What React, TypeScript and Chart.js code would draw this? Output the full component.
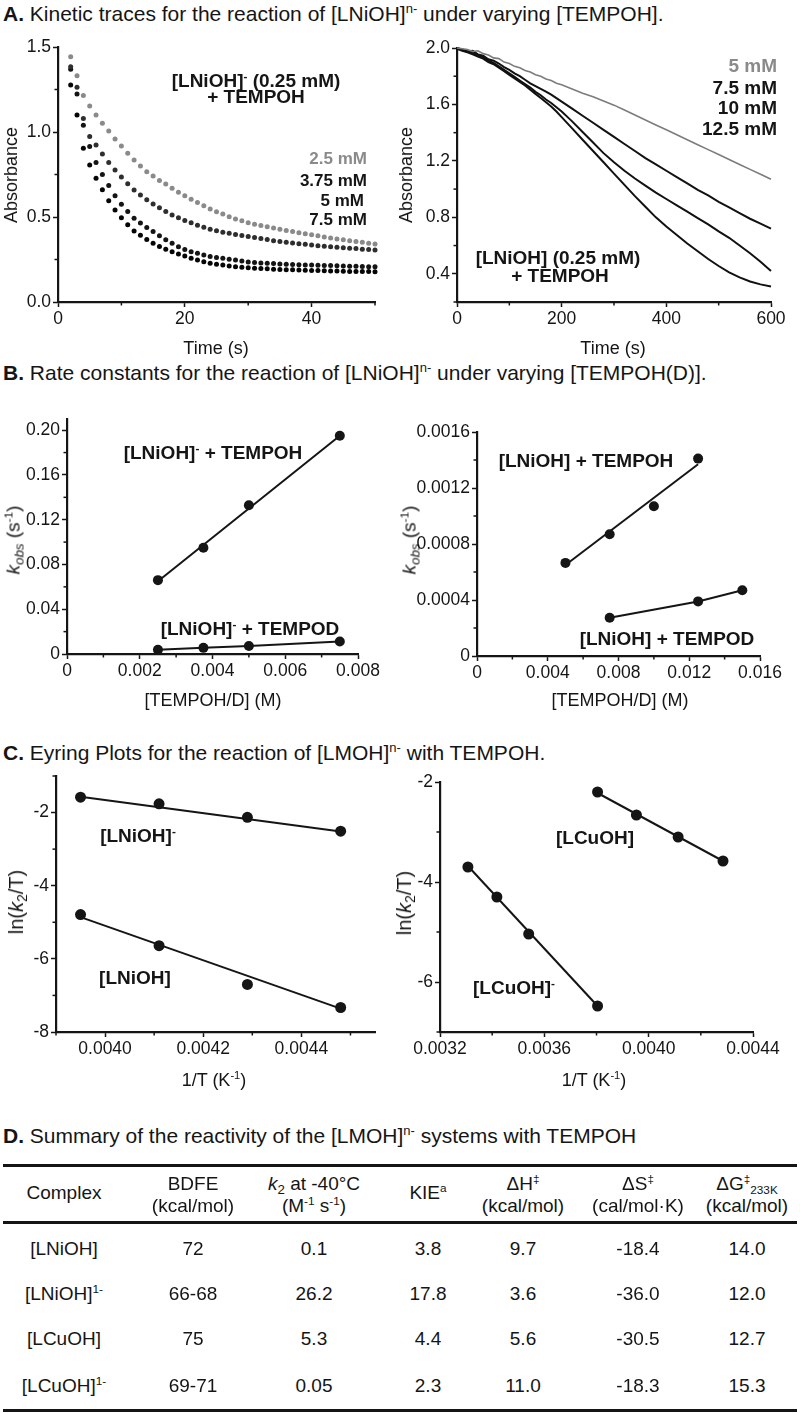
import React, { useEffect, useRef } from 'react';
import { Chart, registerables } from 'chart.js';
Chart.register(...registerables);

const FONT = '"Liberation Sans", Arial, Helvetica, sans-serif';
const INK = '#151515';
const GRAY = '#8a8a8a';

// ---------- Panel A (left): [LNiOH]- + TEMPOH, dots ----------
const timeA1 = [2,3,4,5,6,7,8,9,10,11,12,13,14,15,16,17,18,19,20,21,22,23,24,25,26,27,28,29,30,31,32,33,34,35,36,37,38,39,40,41,42,43,44,45,46,47,48,49,50];
const abs25 = [1.443,1.331,1.214,1.153,1.100,1.051,1.006,0.959,0.918,0.875,0.835,0.800,0.766,0.741,0.714,0.694,0.669,0.645,0.625,0.604,0.586,0.566,0.547,0.531,0.518,0.502,0.488,0.478,0.466,0.458,0.450,0.442,0.435,0.428,0.421,0.414,0.407,0.401,0.395,0.389,0.383,0.377,0.371,0.366,0.361,0.356,0.351,0.346,0.341];
const abs375 = [1.384,1.263,1.080,0.973,0.924,0.870,0.820,0.776,0.735,0.696,0.659,0.630,0.602,0.576,0.554,0.532,0.512,0.495,0.480,0.466,0.452,0.440,0.428,0.419,0.411,0.404,0.397,0.391,0.385,0.379,0.373,0.367,0.361,0.356,0.351,0.347,0.343,0.339,0.335,0.331,0.328,0.325,0.322,0.319,0.316,0.314,0.311,0.309,0.306];
const abs5 = [1.369,1.224,1.040,0.914,0.820,0.750,0.685,0.625,0.575,0.532,0.492,0.464,0.438,0.414,0.390,0.366,0.345,0.325,0.309,0.296,0.287,0.277,0.267,0.262,0.257,0.252,0.247,0.241,0.236,0.233,0.230,0.228,0.226,0.224,0.222,0.221,0.219,0.218,0.217,0.216,0.215,0.214,0.213,0.212,0.211,0.210,0.209,0.208,0.208];
const abs75 = [1.276,1.100,0.904,0.806,0.728,0.660,0.595,0.541,0.495,0.455,0.418,0.392,0.367,0.345,0.327,0.310,0.296,0.283,0.270,0.257,0.247,0.237,0.228,0.222,0.217,0.212,0.208,0.205,0.202,0.199,0.197,0.195,0.193,0.191,0.190,0.189,0.188,0.187,0.186,0.185,0.184,0.183,0.182,0.181,0.180,0.180,0.179,0.179,0.178];
const xTicksA1 = [0, 20, 40];
const xLabelsA1 = ['0', '20', '40'];
const xMinorA1 = [10, 30, 50];
const yTicksA1 = [0, 0.5, 1.0, 1.5];
const yLabelsA1 = ['0.0', '0.5', '1.0', '1.5'];
const yMinorA1 = [0.25, 0.75, 1.25];

// ---------- Panel A (right): [LNiOH] + TEMPOH, traces ----------
const timeA2 = [0,10,20,30,40,50,60,70,80,90,100,110,120,130,140,150,160,170,180,190,200,220,240,260,280,300,320,340,360,380,400,420,440,460,480,500,520,540,560,580,600];
const absR5 = [2.00,1.995,1.99,1.975,1.98,1.96,1.95,1.93,1.925,1.90,1.89,1.87,1.86,1.84,1.83,1.81,1.80,1.78,1.77,1.75,1.74,1.71,1.68,1.655,1.625,1.595,1.56,1.525,1.49,1.455,1.42,1.385,1.35,1.315,1.28,1.245,1.21,1.175,1.14,1.105,1.07];
const absR75 = [2.00,1.99,1.975,1.98,1.955,1.945,1.92,1.91,1.89,1.865,1.845,1.82,1.80,1.775,1.75,1.73,1.71,1.69,1.67,1.645,1.62,1.57,1.52,1.47,1.42,1.37,1.32,1.27,1.22,1.175,1.13,1.085,1.04,0.995,0.955,0.91,0.87,0.83,0.79,0.755,0.72];
const absR10 = [2.00,1.985,1.975,1.965,1.945,1.935,1.91,1.895,1.87,1.845,1.82,1.795,1.77,1.745,1.72,1.69,1.665,1.635,1.61,1.58,1.55,1.48,1.405,1.33,1.255,1.19,1.13,1.075,1.025,0.975,0.93,0.885,0.84,0.795,0.75,0.70,0.655,0.60,0.545,0.485,0.42];
const absR125 = [1.995,1.98,1.97,1.955,1.94,1.925,1.90,1.885,1.86,1.835,1.81,1.785,1.76,1.735,1.705,1.675,1.645,1.615,1.585,1.55,1.51,1.43,1.35,1.27,1.19,1.11,1.03,0.95,0.875,0.80,0.735,0.675,0.615,0.56,0.505,0.455,0.41,0.375,0.345,0.325,0.31];
const xTicksA2 = [0, 200, 400, 600];
const xLabelsA2 = ['0', '200', '400', '600'];
const xMinorA2 = [100, 300, 500];
const yTicksA2 = [0.4, 0.8, 1.2, 1.6, 2.0];
const yLabelsA2 = ['0.4', '0.8', '1.2', '1.6', '2.0'];
const yMinorA2 = [0.2, 0.6, 1.0, 1.4, 1.8];

// ---------- Panel B (left): [LNiOH]- ----------
const concB1 = [0.0025, 0.00375, 0.005, 0.0075];
const kobsB1H = [0.066, 0.095, 0.133, 0.195];
const kobsB1D = [0.0037, 0.0055, 0.0072, 0.0112];
const fitB1X = [0.0025, 0.0075];
const fitB1Y = [0.065, 0.195];
const xTicksB1 = [0, 0.002, 0.004, 0.006, 0.008];
const xLabelsB1 = ['0', '0.002', '0.004', '0.006', '0.008'];
const xMinorB1 = [0.001, 0.003, 0.005, 0.007];
const yTicksB1 = [0, 0.04, 0.08, 0.12, 0.16, 0.20];
const yLabelsB1 = ['0', '0.04', '0.08', '0.12', '0.16', '0.20'];
const yMinorB1 = [0.02, 0.06, 0.10, 0.14, 0.18];

// ---------- Panel B (right): [LNiOH] ----------
const concB2H = [0.005, 0.0075, 0.01, 0.0125];
const kobsB2H = [0.000665, 0.00087, 0.00107, 0.00141];
const concB2D = [0.0075, 0.0125, 0.015];
const kobsB2D = [0.000273, 0.00039, 0.00047];
const fitB2X = [0.005, 0.0125];
const fitB2Y = [0.00065, 0.00137];
const xTicksB2 = [0, 0.004, 0.008, 0.012, 0.016];
const xLabelsB2 = ['0', '0.004', '0.008', '0.012', '0.016'];
const xMinorB2 = [0.002, 0.006, 0.010, 0.014];
const yTicksB2 = [0, 0.0004, 0.0008, 0.0012, 0.0016];
const yLabelsB2 = ['0', '0.0004', '0.0008', '0.0012', '0.0016'];
const yMinorB2 = [0.0002, 0.0006, 0.0010, 0.0014];

// ---------- Panel C (left): Ni Eyring ----------
const invTNi = [0.00395, 0.00411, 0.00429, 0.00448];
const lnNiAnion = [-1.58, -1.76, -2.13, -2.51];
const lnNi = [-4.79, -5.64, -6.70, -7.33];
const fitNiX = [0.00395, 0.00448];
const fitNiAnionY = [-1.57, -2.52];
const fitNiY = [-4.86, -7.36];
const xTicksC1 = [0.0040, 0.0042, 0.0044];
const xLabelsC1 = ['0.0040', '0.0042', '0.0044'];
const xMinorC1 = [0.0039, 0.0041, 0.0043, 0.0045];
const yTicksC1 = [-8, -6, -4, -2];
const yLabelsC1 = ['-8', '-6', '-4', '-2'];
const yMinorC1 = [-7, -5, -3, -1];

// ---------- Panel C (right): Cu Eyring ----------
const invTCuAnion = [0.003307, 0.003418, 0.00354, 0.003804];
const lnCuAnion = [-3.70, -4.30, -5.04, -6.48];
const invTCu = [0.003804, 0.003953, 0.004113, 0.004285];
const lnCu = [-2.20, -2.66, -3.10, -3.58];
const fitCuAnionX = [0.003307, 0.003804];
const fitCuAnionY = [-3.68, -6.48];
const fitCuX = [0.003804, 0.004285];
const fitCuY = [-2.22, -3.58];
const xTicksC2 = [0.0032, 0.0036, 0.0040, 0.0044];
const xLabelsC2 = ['0.0032', '0.0036', '0.0040', '0.0044'];
const xMinorC2 = [0.0034, 0.0038, 0.0042];
const yTicksC2 = [-6, -4, -2];
const yLabelsC2 = ['-6', '-4', '-2'];
const yMinorC2 = [-7, -5, -3];

// ---------- Panel D table ----------
const complexes = ['[LNiOH]', '[LNiOH]', '[LCuOH]', '[LCuOH]'];
const complexCharge = ['', '1-', '', '1-'];
const bdfe = ['72', '66-68', '75', '69-71'];
const k2 = ['0.1', '26.2', '5.3', '0.05'];
const kie = ['3.8', '17.8', '4.4', '2.3'];
const dH = ['9.7', '3.6', '5.6', '11.0'];
const dS = ['-18.4', '-36.0', '-30.5', '-18.3'];
const dG = ['14.0', '12.0', '12.7', '15.3'];

// ---------- helpers ----------
const pts = (xs: number[], ys: number[]) => xs.map((x, i) => ({ x, y: ys[i] }));

const PADL = 64, PADT = 14, PADR = 42, PADB = 44;

const minorTicksPlugin = {
  id: 'minorTicks',
  afterDraw(chart: any, _args: any, opts: any) {
    const ctx = chart.ctx;
    const xs = chart.scales.x, ys = chart.scales.y;
    const len = opts.len || 3.5;
    ctx.save();
    ctx.strokeStyle = INK;
    ctx.lineWidth = 1.5;
    (opts.x || []).forEach((v: number) => {
      const p = xs.getPixelForValue(v);
      ctx.beginPath(); ctx.moveTo(p, xs.top); ctx.lineTo(p, xs.top + len); ctx.stroke();
    });
    (opts.y || []).forEach((v: number) => {
      const p = ys.getPixelForValue(v);
      ctx.beginPath(); ctx.moveTo(ys.right - len, p); ctx.lineTo(ys.right, p); ctx.stroke();
    });
    ctx.restore();
  },
};

function axis(min: number, max: number, ticks: number[], labels: string[], kind: 'x' | 'y') {
  return {
    type: 'linear',
    min, max,
    afterBuildTicks: (s: any) => { s.ticks = ticks.map((v) => ({ value: v })); },
    afterFit: (s: any) => { if (kind === 'y') s.width = PADL; else s.height = PADB; },
    ticks: {
      callback: (_v: any, i: number) => labels[i],
      font: { family: FONT, size: 17.5 },
      color: INK,
      padding: 2,
      autoSkip: false,
      maxRotation: 0,
      minRotation: 0,
    },
    grid: { display: true, drawOnChartArea: false, drawTicks: true, tickLength: 5, tickColor: INK, tickWidth: 1.5 },
    border: { display: true, color: INK, width: 2.2 },
  };
}

type Box = [number, number, number, number]; // left, right, top, bottom

function Plot({ box, datasets, x, y, minor }: { box: Box; datasets: any[]; x: any; y: any; minor: any }) {
  const ref = useRef<HTMLCanvasElement>(null);
  const w = box[1] - box[0] + PADL + PADR;
  const h = box[3] - box[2] + PADT + PADB;
  useEffect(() => {
    const chart = new Chart(ref.current as HTMLCanvasElement, {
      type: 'scatter',
      data: { datasets },
      options: {
        responsive: false,
        animation: false,
        layout: { padding: { left: 0, top: PADT, right: PADR, bottom: 0 } },
        plugins: { legend: { display: false }, tooltip: { enabled: false }, minorTicks: minor } as any,
        scales: { x, y } as any,
      },
      plugins: [minorTicksPlugin],
    } as any);
    return () => chart.destroy();
  }, []);
  return (
    <canvas
      ref={ref}
      width={w}
      height={h}
      style={{ position: 'absolute', left: box[0] - PADL, top: box[2] - PADT, width: w, height: h }}
    />
  );
}

const dots = (data: any[], color: string, r: number) => ({
  data, showLine: false, pointRadius: r, pointBackgroundColor: color, pointBorderWidth: 0, borderColor: color, clip: false,
});
const line = (data: any[], color: string, wdt: number) => ({
  data, showLine: true, pointRadius: 0, borderColor: color, borderWidth: wdt, tension: 0, clip: false,
});

type TP = { x: number; y: number; a?: 'l' | 'c' | 'r'; s?: number; b?: boolean; c?: string; r?: boolean; children: React.ReactNode };
function Tx({ x, y, a = 'c', s = 18, b = false, c = INK, r = false, children }: TP) {
  const tx = a === 'l' ? '0' : a === 'r' ? '-100%' : '-50%';
  return (
    <div
      style={{
        position: 'absolute', left: x, top: y,
        transform: `translate(${tx},-50%)${r ? ' rotate(-90deg)' : ''}`,
        fontFamily: FONT, fontSize: s, fontWeight: b ? 700 : 400, color: c,
        whiteSpace: 'nowrap', lineHeight: 1,
      }}
    >
      {children}
    </div>
  );
}
const Sup = ({ children }: { children: React.ReactNode }) => (
  <span style={{ fontSize: '0.62em', position: 'relative', top: '-0.6em' }}>{children}</span>
);
const Sub = ({ children, k = 0.62 }: { children: React.ReactNode; k?: number }) => (
  <span style={{ fontSize: `${k}em`, position: 'relative', top: '0.3em' }}>{children}</span>
);

const HS = 21; // heading size
const AS = 19; // annotation size
const TS = 19; // table size

export default function App() {
  const boxA1: Box = [58, 375, 47, 302];
  const boxA2: Box = [457, 771, 48, 302];
  const boxB1: Box = [67, 358, 419, 654];
  const boxB2: Box = [477, 760, 432, 656];
  const boxC1: Box = [56, 375, 776, 1032];
  const boxC2: Box = [440, 753, 782, 1032];

  const colX = [64, 193, 314, 428, 523, 638, 747];
  const rowY = [1248, 1293, 1338, 1385];

  return (
    <div style={{ position: 'absolute', left: 0, top: 0, width: 800, height: 1413, background: '#fff', overflow: 'hidden' }}>
      {/* Headings */}
      <Tx x={3} y={13} a="l" s={HS}><b>A.</b> Kinetic traces for the reaction of [LNiOH]<Sup>n-</Sup> under varying [TEMPOH].</Tx>
      <Tx x={3} y={372} a="l" s={HS}><b>B.</b> Rate constants for the reaction of [LNiOH]<Sup>n-</Sup> under varying [TEMPOH(D)].</Tx>
      <Tx x={3} y={752} a="l" s={HS}><b>C.</b> Eyring Plots for the reaction of [LMOH]<Sup>n-</Sup> with TEMPOH.</Tx>
      <Tx x={3} y={1135} a="l" s={HS}><b>D.</b> Summary of the reactivity of the [LMOH]<Sup>n-</Sup> systems with TEMPOH</Tx>

      {/* A left */}
      <Plot
        box={boxA1}
        datasets={[
          dots(pts(timeA1, abs25), GRAY, 2.5),
          dots(pts(timeA1, abs375), '#2e2e2e', 2.5),
          dots(pts(timeA1, abs5), '#141414', 2.5),
          dots(pts(timeA1, abs75), '#050505', 2.5),
        ]}
        x={axis(0, 50, xTicksA1, xLabelsA1, 'x')}
        y={axis(0, 1.5, yTicksA1, yLabelsA1, 'y')}
        minor={{ x: xMinorA1, y: yMinorA1 }}
      />
      <Tx x={11} y={175} r>Absorbance</Tx>
      <Tx x={216} y={348}>Time (s)</Tx>
      <Tx x={256} y={80} b s={AS}>[LNiOH]<Sup>-</Sup> (0.25 mM)</Tx>
      <Tx x={256} y={96} b s={AS}>+ TEMPOH</Tx>
      <Tx x={367} y={158} a="r" b s={17} c={GRAY}>2.5 mM</Tx>
      <Tx x={367} y={180} a="r" b s={17}>3.75 mM</Tx>
      <Tx x={364} y={200} a="r" b s={17}>5 mM</Tx>
      <Tx x={367} y={219} a="r" b s={17}>7.5 mM</Tx>

      {/* A right */}
      <Plot
        box={boxA2}
        datasets={[
          line(pts(timeA2, absR5), '#7c7c7c', 1.6),
          line(pts(timeA2, absR75), '#111111', 2),
          line(pts(timeA2, absR10), '#111111', 2),
          line(pts(timeA2, absR125), '#111111', 2),
        ]}
        x={axis(0, 600, xTicksA2, xLabelsA2, 'x')}
        y={axis(0.2, 2.0, yTicksA2, yLabelsA2, 'y')}
        minor={{ x: xMinorA2, y: yMinorA2 }}
      />
      <Tx x={406} y={175} r>Absorbance</Tx>
      <Tx x={613} y={348}>Time (s)</Tx>
      <Tx x={777} y={65} a="r" b s={AS} c={GRAY}>5 mM</Tx>
      <Tx x={777} y={87} a="r" b s={AS}>7.5 mM</Tx>
      <Tx x={777} y={107} a="r" b s={AS}>10 mM</Tx>
      <Tx x={777} y={128} a="r" b s={AS}>12.5 mM</Tx>
      <Tx x={558} y={257} b s={AS}>[LNiOH] (0.25 mM)</Tx>
      <Tx x={560} y={275} b s={AS}>+ TEMPOH</Tx>

      {/* B left */}
      <Plot
        box={boxB1}
        datasets={[
          line(pts(fitB1X, fitB1Y), INK, 2),
          dots(pts(concB1, kobsB1H), INK, 5),
          { ...dots(pts(concB1, kobsB1D), INK, 5), showLine: true, borderWidth: 2 },
        ]}
        x={axis(0, 0.008, xTicksB1, xLabelsB1, 'x')}
        y={axis(0, 0.21, yTicksB1, yLabelsB1, 'y')}
        minor={{ x: xMinorB1, y: yMinorB1 }}
      />
      <Tx x={13} y={540} r s={19}><i>k</i><Sub k={0.7}><i>obs</i></Sub> (s<Sup>-1</Sup>)</Tx>
      <Tx x={213} y={700}>[TEMPOH/D] (M)</Tx>
      <Tx x={213} y={452} b s={AS}>[LNiOH]<Sup>-</Sup> + TEMPOH</Tx>
      <Tx x={250} y={628} b s={AS}>[LNiOH]<Sup>-</Sup> + TEMPOD</Tx>

      {/* B right */}
      <Plot
        box={boxB2}
        datasets={[
          line(pts(fitB2X, fitB2Y), INK, 2),
          dots(pts(concB2H, kobsB2H), INK, 5),
          { ...dots(pts(concB2D, kobsB2D), INK, 5), showLine: true, borderWidth: 2 },
        ]}
        x={axis(0, 0.016, xTicksB2, xLabelsB2, 'x')}
        y={axis(0, 0.0016, yTicksB2, yLabelsB2, 'y')}
        minor={{ x: xMinorB2, y: yMinorB2 }}
      />
      <Tx x={409} y={540} r s={19}><i>k</i><Sub k={0.7}><i>obs</i></Sub> (s<Sup>-1</Sup>)</Tx>
      <Tx x={620} y={700}>[TEMPOH/D] (M)</Tx>
      <Tx x={586} y={460} b s={AS}>[LNiOH] + TEMPOH</Tx>
      <Tx x={667} y={638} b s={AS}>[LNiOH] + TEMPOD</Tx>

      {/* C left */}
      <Plot
        box={boxC1}
        datasets={[
          line(pts(fitNiX, fitNiAnionY), INK, 2),
          line(pts(fitNiX, fitNiY), INK, 2),
          dots(pts(invTNi, lnNiAnion), INK, 5.5),
          dots(pts(invTNi, lnNi), INK, 5.5),
        ]}
        x={axis(0.0039, 0.00455, xTicksC1, xLabelsC1, 'x')}
        y={axis(-8, -1, yTicksC1, yLabelsC1, 'y')}
        minor={{ x: xMinorC1, y: yMinorC1 }}
      />
      <Tx x={16} y={902} r s={20}>ln(<i>k</i><Sub k={0.7}>2</Sub>/T)</Tx>
      <Tx x={214} y={1080}>1/T (K<Sup>-1</Sup>)</Tx>
      <Tx x={138} y={835} b s={AS}>[LNiOH]<Sup>-</Sup></Tx>
      <Tx x={135} y={977} b s={AS}>[LNiOH]</Tx>

      {/* C right */}
      <Plot
        box={boxC2}
        datasets={[
          line(pts(fitCuAnionX, fitCuAnionY), INK, 2),
          line(pts(fitCuX, fitCuY), INK, 2),
          dots(pts(invTCuAnion, lnCuAnion), INK, 5.5),
          dots(pts(invTCu, lnCu), INK, 5.5),
        ]}
        x={axis(0.0032, 0.0044, xTicksC2, xLabelsC2, 'x')}
        y={axis(-7, -2, yTicksC2, yLabelsC2, 'y')}
        minor={{ x: xMinorC2, y: yMinorC2 }}
      />
      <Tx x={404} y={903} r s={20}>ln(<i>k</i><Sub k={0.7}>2</Sub>/T)</Tx>
      <Tx x={594} y={1080}>1/T (K<Sup>-1</Sup>)</Tx>
      <Tx x={595} y={837} b s={AS}>[LCuOH]</Tx>
      <Tx x={514} y={987} b s={AS}>[LCuOH]<Sup>-</Sup></Tx>

      {/* D table */}
      <div style={{ position: 'absolute', left: 3, width: 794, top: 1164, height: 2.5, background: INK }} />
      <div style={{ position: 'absolute', left: 3, width: 794, top: 1221, height: 2.5, background: INK }} />
      <div style={{ position: 'absolute', left: 3, width: 794, top: 1409, height: 2.5, background: INK }} />
      <Tx x={colX[0]} y={1192} s={TS}>Complex</Tx>
      <Tx x={colX[1]} y={1183} s={TS}>BDFE</Tx>
      <Tx x={colX[1]} y={1205} s={TS}>(kcal/mol)</Tx>
      <Tx x={colX[2]} y={1183} s={TS}><i>k</i><Sub k={0.7}>2</Sub> at -40°C</Tx>
      <Tx x={colX[2]} y={1205} s={TS}>(M<Sup>-1</Sup> s<Sup>-1</Sup>)</Tx>
      <Tx x={colX[3]} y={1192} s={TS}>KIE<Sup>a</Sup></Tx>
      <Tx x={colX[4]} y={1183} s={TS}>ΔH<Sup>‡</Sup></Tx>
      <Tx x={colX[4]} y={1205} s={TS}>(kcal/mol)</Tx>
      <Tx x={colX[5]} y={1183} s={TS}>ΔS<Sup>‡</Sup></Tx>
      <Tx x={colX[5]} y={1205} s={TS}>(cal/mol·K)</Tx>
      <Tx x={colX[6]} y={1183} s={TS}>ΔG<Sup>‡</Sup><Sub>233K</Sub></Tx>
      <Tx x={colX[6]} y={1205} s={TS}>(kcal/mol)</Tx>
      {complexes.map((c, i) => (
        <React.Fragment key={i}>
          <Tx x={colX[0]} y={rowY[i]} s={TS}>{c}{complexCharge[i] ? <Sup>{complexCharge[i]}</Sup> : null}</Tx>
          <Tx x={colX[1]} y={rowY[i]} s={TS}>{bdfe[i]}</Tx>
          <Tx x={colX[2]} y={rowY[i]} s={TS}>{k2[i]}</Tx>
          <Tx x={colX[3]} y={rowY[i]} s={TS}>{kie[i]}</Tx>
          <Tx x={colX[4]} y={rowY[i]} s={TS}>{dH[i]}</Tx>
          <Tx x={colX[5]} y={rowY[i]} s={TS}>{dS[i]}</Tx>
          <Tx x={colX[6]} y={rowY[i]} s={TS}>{dG[i]}</Tx>
        </React.Fragment>
      ))}
    </div>
  );
}
